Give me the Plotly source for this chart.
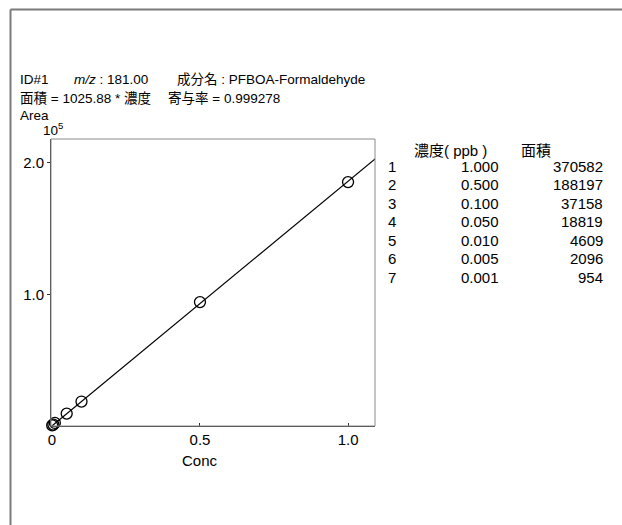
import plotly.graph_objects as go
import numpy as np

# Calibration standards
levels = [1, 2, 3, 4, 5, 6, 7]
conc_ppb = [1.000, 0.500, 0.100, 0.050, 0.010, 0.005, 0.001]
peak_area = [370582, 188197, 37158, 18819, 4609, 2096, 954]

# plotted response is half of the tabulated peak area
response = [a / 2 for a in peak_area]

# least-squares line through the origin
x_arr = np.array(conc_ppb)
y_arr = np.array(response)
slope = float((x_arr * y_arr).sum() / (x_arr * x_arr).sum())
fit_x = [0.0, 1.2]
fit_y = [slope * v for v in fit_x]

W, H = 622, 525
L, R, T, B = 51, 375, 139, 426  # plot box in pixels

FONT = "Liberation Sans, Arial, Noto Sans CJK JP, sans-serif"
FS_HEAD = 13.5
FS_TABLE = 15
FS_AXIS = 15


def px(xp):
    return (xp - L) / (R - L)


def py(yp):
    return (B - yp) / (B - T)


fig = go.Figure()
fig.add_trace(go.Scatter(
    x=fit_x, y=fit_y, mode="lines",
    line=dict(color="black", width=1.2), hoverinfo="skip",
))
fig.add_trace(go.Scatter(
    x=conc_ppb, y=response, mode="markers",
    marker=dict(symbol="circle-open", size=11, color="black",
                line=dict(width=1.3, color="black")),
    cliponaxis=False,
))

ann = []


def text(xp, yp, s, anchor="left", size=FS_HEAD):
    ann.append(dict(x=px(xp), y=py(yp), xref="paper", yref="paper",
                    text=s, showarrow=False, xanchor=anchor, yanchor="middle",
                    font=dict(family=FONT, size=size, color="black")))


# header
text(18, 80, "ID#1")
text(72, 80, "<i>m/z</i> : 181.00")
text(175, 80, "成分名 : PFBOA-Formaldehyde")
text(18, 98, "面積 = 1025.88 * 濃度")
text(166, 98, "寄与率 = 0.999278")
text(18, 115, "Area")
text(41, 129, "10<sup>5</sup>")

# table of standards
text(412, 150, "濃度( ppb )", size=FS_TABLE)
text(519, 150, "面積", size=FS_TABLE)
row_y0, row_dy = 166, 18.5
for i, (n, c, a) in enumerate(zip(levels, conc_ppb, peak_area)):
    yy = row_y0 + i * row_dy
    text(386, yy, str(n), size=FS_TABLE)
    text(501, yy, f"{c:.3f}", anchor="right", size=FS_TABLE)
    text(605, yy, f"{a}", anchor="right", size=FS_TABLE)

# x-axis title
text(200, 460, "Conc", anchor="center", size=FS_AXIS)

shapes = [
    # plot box (top and right edges)
    dict(type="rect", xref="paper", yref="paper", x0=0, y0=0, x1=1, y1=1,
         line=dict(color="#8a8a8a", width=1)),
    # outer frame
    dict(type="line", xref="paper", yref="paper",
         x0=px(10.5), y0=py(9.5), x1=px(622), y1=py(9.5),
         line=dict(color="#7a7a7a", width=2)),
    dict(type="line", xref="paper", yref="paper",
         x0=px(10.5), y0=py(9.5), x1=px(10.5), y1=py(525),
         line=dict(color="#7a7a7a", width=2)),
]

fig.update_layout(
    width=W, height=H,
    margin=dict(l=L, r=W - R, t=T, b=H - B, pad=0),
    paper_bgcolor="white", plot_bgcolor="white",
    showlegend=False,
    annotations=ann, shapes=shapes,
    font=dict(family=FONT, size=FS_AXIS, color="black"),
)
fig.update_xaxes(
    range=[-0.003, 1.091], showgrid=False, zeroline=False,
    showline=True, linecolor="#333", linewidth=1,
    tickvals=[0, 0.5, 1.0], ticktext=["0", "0.5", "1.0"],
    ticks="inside", ticklen=3, tickcolor="#333",
    tickfont=dict(family=FONT, size=FS_AXIS),
)
fig.update_yaxes(
    range=[0, 2.18e5], showgrid=False, zeroline=False,
    showline=True, linecolor="#333", linewidth=1,
    tickvals=[1e5, 2e5], ticktext=["1.0", "2.0"],
    ticks="outside", ticklen=3, tickcolor="#333",
    tickfont=dict(family=FONT, size=FS_AXIS),
)

fig.write_html("out.html")
